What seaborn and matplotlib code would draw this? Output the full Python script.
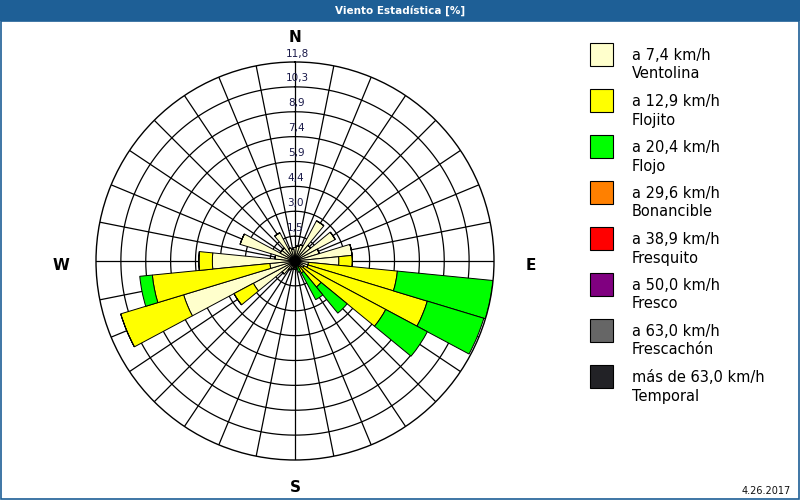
import numpy as np
import matplotlib
matplotlib.use("Agg")
import matplotlib.pyplot as plt
import seaborn as sns
from matplotlib.patches import Rectangle

# 32 wind directions, clockwise from north
directions = np.arange(32) * 11.25

# percentage per speed class
ventolina = [0.8, 0.9, 1.0, 2.7, 1.2, 2.7, 1.5, 3.4, 2.6, 0.8, 0.8, 0.6, 0.5, 0.4, 0.3, 0.4,
             0.5, 0.4, 0.5, 0.6, 1.0, 2.8, 6.9, 1.5, 4.9, 1.2, 3.4, 1.0, 1.0, 1.9, 0.8, 0.7]
flojito = [0, 0, 0, 0, 0, 0, 0, 0, 0.8, 5.3, 7.4, 5.5, 1.5, 0.4, 0, 0,
           0, 0, 0, 0, 0, 1.3, 3.9, 7.0, 0.8, 0, 0, 0, 0, 0, 0, 0]
flojo = [0, 0, 0, 0, 0, 0, 0, 0, 0, 5.7, 3.5, 2.8, 2.0, 1.8, 0.4, 0,
         0, 0, 0, 0, 0, 0, 0, 0.75, 0, 0, 0, 0, 0, 0, 0, 0]

ring_labels = ["1,5", "3,0", "4,4", "5,9", "7,4", "8,9", "10,3", "11,8"]
r_max = 11.8

legend_top = ["a 7,4 km/h", "a 12,9 km/h", "a 20,4 km/h", "a 29,6 km/h",
              "a 38,9 km/h", "a 50,0 km/h", "a 63,0 km/h", "más de 63,0 km/h"]
legend_bottom = ["Ventolina", "Flojito", "Flojo", "Bonancible",
                 "Fresquito", "Fresco", "Frescachón", "Temporal"]
colors = ["#FFFFCC", "#FFFF00", "#00FF00", "#FF8000",
          "#FF0000", "#800080", "#666666", "#222226"]

sns.set_style("white")
plt.rcParams['font.family'] = ['DejaVu Sans']
plt.rcParams['text.color'] = 'black'

fig = plt.figure(figsize=(8, 5), dpi=100)
fig.patch.set_facecolor("white")

# title bar and frame
fig.patches.append(Rectangle((0, 0.958), 1, 0.042, transform=fig.transFigure,
                             facecolor="#1E5F96", edgecolor="none", zorder=0))
fig.patches.append(Rectangle((0.001, 0.002), 0.998, 0.956, transform=fig.transFigure,
                             facecolor="none", edgecolor="#1E5F96", lw=1.2, zorder=0))
fig.text(0.5, 0.979, "Viento Estadística [%]", color="white", fontsize=7.5,
         fontweight="bold", ha="center", va="center")
fig.text(0.988, 0.017, "4.26.2017", fontsize=7, ha="right", va="center", color="#111111")

ax = fig.add_axes([0.12, 0.08, 0.4975, 0.796], projection="polar")
ax.set_theta_zero_location("N")
ax.set_theta_direction(-1)
ax.set_ylim(0, r_max)
ax.set_xticks([])
ax.set_yticks([])
ax.grid(False)
ax.spines["polar"].set_linewidth(1.0)
ax.spines["polar"].set_color("black")

theta = np.deg2rad(directions)
width = np.deg2rad(11.25)

# grid: rings and spokes
step = r_max / len(ring_labels)
circ = np.linspace(0, 2 * np.pi, 400)
for i in range(1, len(ring_labels)):
    ax.plot(circ, np.full_like(circ, step * i), color="black", lw=0.9, zorder=1)
for t in theta:
    ax.plot([t, t], [0, r_max], color="black", lw=0.9, zorder=1)

# stacked bars
bottom = np.zeros(len(directions))
for vals, col in zip([ventolina, flojito, flojo], colors):
    vals = np.array(vals)
    ax.bar(theta, vals, width=width, bottom=bottom, color=col,
           edgecolor="black", linewidth=0.7, zorder=2)
    bottom += vals
ax.scatter([0], [0], s=40, color="black", zorder=3)

# ring value labels on the north spoke
for i, lab in enumerate(ring_labels):
    ax.text(0.012, step * (i + 1) + 0.5, lab, fontsize=7.5, color="#1a1a4a",
            ha="center", va="center", zorder=4, clip_on=False)

# cardinal points
for lab, x, y in [("N", 295, 38), ("E", 531, 265), ("S", 295, 488), ("W", 61, 265)]:
    fig.text(x / 800, 1 - y / 500, lab, fontsize=11, fontweight="bold",
             ha="center", va="center")

# legend
for i in range(len(colors)):
    ytop = 43 + i * 46
    fig.patches.append(Rectangle((590 / 800, 1 - (ytop + 23) / 500), 23 / 800, 23 / 500,
                                 transform=fig.transFigure, facecolor=colors[i],
                                 edgecolor="black", lw=0.8))
    fig.text(632 / 800, 1 - (ytop + 13) / 500, legend_top[i], fontsize=10.5,
             ha="left", va="center")
    fig.text(632 / 800, 1 - (ytop + 31) / 500, legend_bottom[i], fontsize=10.5,
             ha="left", va="center")

fig.savefig("out.png", dpi=100)
